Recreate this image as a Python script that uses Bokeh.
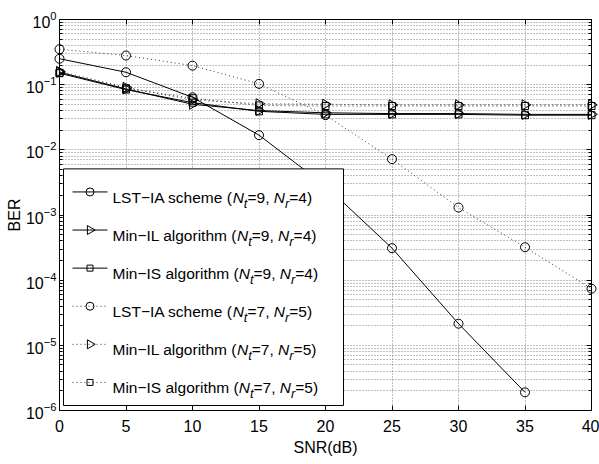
import numpy as np
from itertools import product

from bokeh.plotting import figure
from bokeh.models import (Range1d, LinearAxis, LogAxis, FixedTicker, LinearScale,
                          LogTickFormatter, PrintfTickFormatter, ColumnDataSource)
from bokeh.core.properties import value
from bokeh.embed import file_html
from bokeh.resources import INLINE

# ---------------------------------------------------------------- data
snr = [0, 5, 10, 15, 20, 25, 30, 35, 40]          # SNR (dB)
snr_lst_94 = [0, 5, 10, 15, 20, 25, 30, 35]        # LST-IA (9,4) curve stops at 35 dB

# Nt=9, Nr=4  (solid curves)
lst_ia_94 = [0.25, 0.155, 0.064, 0.0168, 2.8e-3, 3.1e-4, 2.15e-5, 1.9e-6]
min_il_94 = [0.155, 0.086, 0.050, 0.040, 0.037, 0.036, 0.036, 0.035, 0.035]
min_is_94 = [0.150, 0.084, 0.053, 0.039, 0.035, 0.035, 0.035, 0.034, 0.034]

# Nt=7, Nr=5  (dotted curves)
lst_ia_75 = [0.35, 0.28, 0.196, 0.103, 0.034, 7.2e-3, 1.3e-3, 3.2e-4, 7.4e-5]
min_il_75 = [0.160, 0.091, 0.058, 0.051, 0.050, 0.049, 0.049, 0.049, 0.049]
min_is_75 = [0.152, 0.088, 0.062, 0.048, 0.047, 0.047, 0.047, 0.047, 0.047]

scheme_names = ["LST\u2212IA scheme", "Min\u2212IL algorithm", "Min\u2212IS algorithm"]
antenna_configs = [(9, 4), (7, 5)]

x_ticks = [0, 5, 10, 15, 20, 25, 30, 35, 40]
y_exponents = [-6, -5, -4, -3, -2, -1, 0]

# ---------------------------------------------------------------- style
FONT = "Liberation Sans"
TICK_PX = "16px"
MARKERS = ["circle", "triangle", "square"]
MARKER_SIZE = {"circle": 9, "triangle": 10, "square": 7}
MARKER_ANGLE = {"circle": 0.0, "triangle": -np.pi / 2, "square": 0.0}
DASH = {(9, 4): "solid", (7, 5): "1 3"}
LINE_COLOR = {(9, 4): "black", (7, 5): "#333333"}

major_y = [10.0 ** e for e in y_exponents]
minor_y = [m * 10.0 ** e for e in y_exponents[:-1] for m in range(2, 10)]

p = figure(width=599, height=464,
           x_range=Range1d(0, 40), y_range=Range1d(1e-6, 1),
           y_axis_type="log",
           output_backend="svg", toolbar_location=None,
           min_border_left=59, min_border_right=8,
           min_border_top=19, min_border_bottom=54)
p.background_fill_color = "white"
p.border_fill_color = "white"
p.outline_line_color = "black"
p.outline_line_width = 1

y_ticker = FixedTicker(ticks=major_y, minor_ticks=minor_y)
x_ticker = FixedTicker(ticks=x_ticks)

xa = p.xaxis[0]
xa.ticker = x_ticker
xa.axis_label = "SNR(dB)"
ya = p.yaxis[0]
ya.ticker = y_ticker
ya.formatter = LogTickFormatter()
ya.axis_label = "BER"

for ax in (xa, ya):
    ax.axis_line_color = "black"
    ax.major_tick_in = 5
    ax.major_tick_out = 0
    ax.minor_tick_in = 3
    ax.minor_tick_out = 0
    ax.major_tick_line_color = "black"
    ax.minor_tick_line_color = "black"
    ax.major_label_text_font = FONT
    ax.major_label_text_font_size = TICK_PX
    ax.major_label_text_color = "black"
    ax.axis_label_text_font = FONT
    ax.axis_label_text_font_size = TICK_PX
    ax.axis_label_text_font_style = "normal"
    ax.axis_label_text_color = "black"
xa.minor_tick_line_color = None
xa.major_label_standoff = 9
xa.axis_label_standoff = 4
ya.major_label_standoff = 3
ya.axis_label_standoff = 0

# box-style ticks on the top and right edges
top_ax = LinearAxis(ticker=x_ticker, formatter=PrintfTickFormatter(format=""),
                    major_tick_in=5, major_tick_out=0, minor_tick_line_color=None,
                    major_label_text_font_size="0px", major_label_standoff=0,
                    axis_line_color="black")
right_ax = LogAxis(ticker=y_ticker, formatter=PrintfTickFormatter(format=""),
                   major_tick_in=5, major_tick_out=0, minor_tick_in=3, minor_tick_out=0,
                   major_label_text_font_size="0px", major_label_standoff=0,
                   axis_line_color="black")
p.add_layout(top_ax, "above")
p.add_layout(right_ax, "right")

# dotted grid, including the minor decades
for g in (p.xgrid, p.ygrid):
    g.grid_line_color = "#808080"
    g.grid_line_dash = "1 2"
p.ygrid.minor_grid_line_color = "#808080"
p.ygrid.minor_grid_line_dash = "1 2"

# ---------------------------------------------------------------- curves
curves = [
    ((9, 4), "circle", snr_lst_94, lst_ia_94),
    ((9, 4), "triangle", snr, min_il_94),
    ((9, 4), "square", snr, min_is_94),
    ((7, 5), "circle", snr, lst_ia_75),
    ((7, 5), "triangle", snr, min_il_75),
    ((7, 5), "square", snr, min_is_75),
]
for cfg, marker, xs, ys in curves:
    src = ColumnDataSource(dict(x=xs, y=ys))
    p.line("x", "y", source=src, line_color=LINE_COLOR[cfg], line_width=1,
           line_dash=DASH[cfg])
    p.scatter("x", "y", source=src, marker=marker, size=MARKER_SIZE[marker],
              angle=MARKER_ANGLE[marker], fill_color=None,
              line_color="black", line_width=1, level="overlay")

# ---------------------------------------------------------------- legend
# linear pixel coordinate system of the canvas (y grows downward)
p.extra_x_ranges = {"px": Range1d(59, 591)}
p.extra_y_ranges = {"px": Range1d(409, 19)}
p.extra_x_scales = {"px": LinearScale()}
p.extra_y_scales = {"px": LinearScale()}

LEG_LEFT, LEG_RIGHT, LEG_TOP, LEG_BOTTOM = 63, 343, 168, 404
ROW0, ROW_STEP = 191, 38
SAMPLE_X0, SAMPLE_X1, SAMPLE_XM = 72, 107, 89.5
TEXT_X = 112
MAIN_PX, SUB_PX, SUB_DROP, BASE_DROP = 15.5, 13, 6, 5.5

# Arial / Liberation Sans advance widths (1/1000 em)
ADV = {" ": 278, "(": 333, ")": 333, ",": 278, "=": 584, "\u2212": 584,
       "A": 667, "I": 278, "L": 556, "M": 833, "N": 722, "S": 667, "T": 611,
       "a": 556, "c": 500, "e": 556, "g": 556, "h": 556, "i": 222, "l": 222,
       "m": 833, "n": 556, "o": 556, "r": 333, "s": 500, "t": 278}
for d in "0123456789":
    ADV[d] = 556


def text_width(s, px):
    return sum(ADV.get(c, 556) for c in s) * px / 1000.0


p.quad(left=[LEG_LEFT], right=[LEG_RIGHT], top=[LEG_TOP], bottom=[LEG_BOTTOM],
       x_range_name="px", y_range_name="px",
       fill_color="white", line_color="black", line_width=1, level="overlay")

upright = dict(x=[], y=[], t=[])
italic = dict(x=[], y=[], t=[])
subs = dict(x=[], y=[], t=[])

for i, (cfg, (name, marker)) in enumerate(product(antenna_configs,
                                                   zip(scheme_names, MARKERS))):
    yc = ROW0 + i * ROW_STEP
    p.line([SAMPLE_X0, SAMPLE_X1], [yc, yc], x_range_name="px", y_range_name="px",
           line_color=LINE_COLOR[cfg], line_width=1, line_dash=DASH[cfg],
           level="overlay")
    p.scatter([SAMPLE_XM], [yc], x_range_name="px", y_range_name="px",
              marker=marker, size=MARKER_SIZE[marker] - 1, angle=MARKER_ANGLE[marker],
              fill_color=None, line_color="black", line_width=1, level="overlay")

    nt, nr = cfg
    pieces = [(name + " (", upright, MAIN_PX, 0),
              ("N", italic, MAIN_PX, 0),
              ("t", subs, SUB_PX, SUB_DROP),
              ("=%d, " % nt, upright, MAIN_PX, 0),
              ("N", italic, MAIN_PX, 0),
              ("r", subs, SUB_PX, SUB_DROP),
              ("=%d)" % nr, upright, MAIN_PX, 0)]
    x = TEXT_X
    base = yc + BASE_DROP
    for txt, store, px, drop in pieces:
        store["x"].append(x)
        store["y"].append(base + drop)
        store["t"].append(txt)
        x += text_width(txt, px)

for store, size, style in ((upright, MAIN_PX, "normal"),
                           (italic, MAIN_PX, "italic"),
                           (subs, SUB_PX, "italic")):
    p.text("x", "y", text="t", source=ColumnDataSource(store),
           x_range_name="px", y_range_name="px",
           text_font=value(FONT), text_font_size=value("%gpx" % size),
           text_font_style=value(style), text_color="black",
           text_baseline="alphabetic", text_align="left", level="overlay")

open("out.html", "w").write(file_html(p, INLINE))
